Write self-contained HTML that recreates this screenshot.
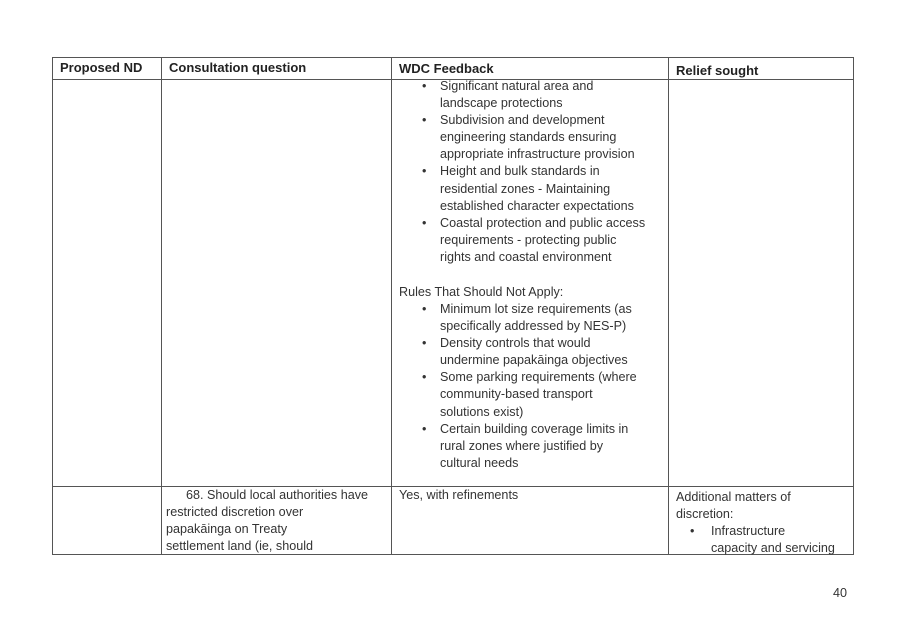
<!DOCTYPE html>
<html><head><style>
body{margin:0;width:907px;height:626px;background:#fff;position:relative;overflow:hidden;font-family:"Liberation Sans",sans-serif;color:#333;}
.l{position:absolute;background:#555;}
.t{position:absolute;font-size:12.6px;line-height:17px;white-space:nowrap;}
.b{font-weight:bold;color:#222;font-size:13px;}
</style></head><body>
<div class="l" style="left:52px;top:57px;width:801px;height:1px"></div>
<div class="l" style="left:52px;top:79px;width:801px;height:1px"></div>
<div class="l" style="left:52px;top:486px;width:801px;height:1px"></div>
<div class="l" style="left:52px;top:554px;width:801px;height:1px"></div>
<div class="l" style="left:52px;top:57px;width:1px;height:498px"></div>
<div class="l" style="left:161px;top:57px;width:1px;height:498px"></div>
<div class="l" style="left:391px;top:57px;width:1px;height:498px"></div>
<div class="l" style="left:668px;top:57px;width:1px;height:498px"></div>
<div class="l" style="left:853px;top:57px;width:1px;height:498px"></div>

<div class="t b" style="left:60px;top:59px">Proposed ND</div>
<div class="t b" style="left:169px;top:59px">Consultation question</div>
<div class="t b" style="left:399px;top:60px">WDC Feedback</div>
<div class="t b" style="left:676px;top:62px">Relief sought</div>

<div class="t" style="left:422px;top:78px;line-height:17.1px">
•<br><br>•<br><br><br>•<br><br><br>•</div>
<div class="t" style="left:440px;top:78px;line-height:17.1px">Significant natural area and<br>landscape protections<br>Subdivision and development<br>engineering standards ensuring<br>appropriate infrastructure provision<br>Height and bulk standards in<br>residential zones - Maintaining<br>established character expectations<br>Coastal protection and public access<br>requirements - protecting public<br>rights and coastal environment</div>

<div class="t" style="left:399px;top:284px">Rules That Should Not Apply:</div>
<div class="t" style="left:422px;top:301px;line-height:17.1px">•<br><br>•<br><br>•<br><br><br>•</div>
<div class="t" style="left:440px;top:301px;line-height:17.1px">Minimum lot size requirements (as<br>specifically addressed by NES-P)<br>Density controls that would<br>undermine papakāinga objectives<br>Some parking requirements (where<br>community-based transport<br>solutions exist)<br>Certain building coverage limits in<br>rural zones where justified by<br>cultural needs</div>

<div class="t" style="left:186px;top:487px">68. Should local authorities have</div>
<div class="t" style="left:166px;top:504px">restricted discretion over<br>papakāinga on Treaty<br>settlement land (ie, should</div>
<div class="t" style="left:399px;top:487px">Yes, with refinements</div>
<div class="t" style="left:676px;top:489px">Additional matters of<br>discretion:</div>
<div class="t" style="left:690px;top:523px">•</div>
<div class="t" style="left:711px;top:523px">Infrastructure<br>capacity and servicing</div>

<div class="t" style="left:833px;top:585px">40</div>
</body></html>
